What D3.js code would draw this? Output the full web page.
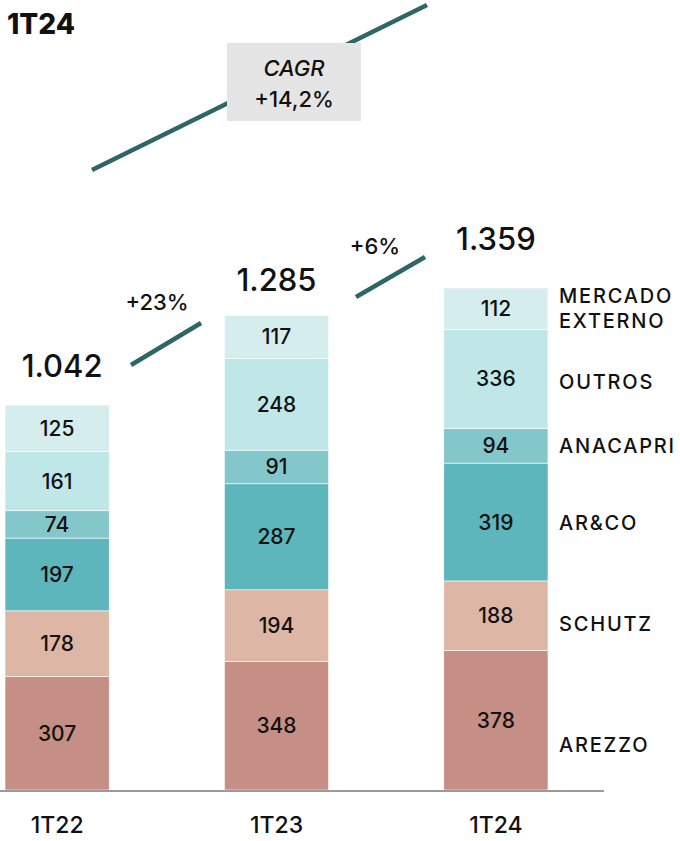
<!DOCTYPE html>
<html>
<head>
<meta charset="utf-8">
<script src="https://cdn.jsdelivr.net/npm/d3@7"></script>
<style>
  body { margin: 0; background: #fff; }
  svg text { font-family: Inter, "Noto Sans", "DejaVu Sans", sans-serif; font-weight: 500; fill: #111; }
</style>
</head>
<body>
<div class="chart"></div>
<script>
// data
var quarters = ["1T22", "1T23", "1T24"];
var seriesNames = ["AREZZO", "SCHUTZ", "AR&CO", "ANACAPRI", "OUTROS", "MERCADO EXTERNO"];
var arezzo = [307, 348, 378];
var schutz = [178, 194, 188];
var arco = [197, 287, 319];
var anacapri = [74, 91, 94];
var outros = [161, 248, 268];          // drawn height of the bar
var outrosPrinted = [161, 248, 336];   // value printed inside the bar
var mercado = [125, 117, 112];
var totals = ["1.042", "1.285", "1.359"];
var growth = ["+23%", "+6%"];
var cagrLabel = ["CAGR", "+14,2%"];

var colors = ["#C58F85", "#DEB6A6", "#5DB6BB", "#84C7CA", "#BFE7E8", "#D6EDED"];
var lineColor = "#2D6664";

var svgWidth = 680, svgHeight = 841;
var svg = d3.select(".chart").append("svg")
    .attr("width", svgWidth)
    .attr("height", svgHeight);

// build table for the stack
var table = quarters.map(function (q, i) {
    return {
        quarter: q,
        "AREZZO": arezzo[i],
        "SCHUTZ": schutz[i],
        "AR&CO": arco[i],
        "ANACAPRI": anacapri[i],
        "OUTROS": outros[i],
        "MERCADO EXTERNO": mercado[i]
    };
});
var printed = {
    "AREZZO": arezzo, "SCHUTZ": schutz, "AR&CO": arco,
    "ANACAPRI": anacapri, "OUTROS": outrosPrinted, "MERCADO EXTERNO": mercado
};

var stacked = d3.stack().keys(seriesNames)(table);

var x = d3.scaleBand()
    .domain(quarters)
    .range([5, 548])
    .paddingInner(0.525)
    .paddingOuter(0);

var y = d3.scaleLinear()
    .domain([0, 1359])
    .range([790, 288]);

// bars
var layers = svg.append("g").selectAll("g")
    .data(stacked)
    .enter()
    .append("g")
    .attr("fill", (d, i) => colors[i]);

layers.selectAll("rect")
    .data(d => d)
    .enter()
    .append("rect")
    .attr("x", d => x(d.data.quarter))
    .attr("y", d => y(d[1]))
    .attr("width", x.bandwidth())
    .attr("height", d => y(d[0]) - y(d[1]))
    .attr("stroke", "#fff")
    .attr("stroke-width", 0.6);

// values inside the segments
layers.each(function (layer) {
    d3.select(this).selectAll("text")
        .data(layer)
        .enter()
        .append("text")
        .attr("x", d => x(d.data.quarter) + x.bandwidth() / 2)
        .attr("y", d => (y(d[0]) + y(d[1])) / 2)
        .attr("text-anchor", "middle")
        .attr("dominant-baseline", "central")
        .style("font-size", "21px")
        .text((d, i) => printed[layer.key][i]);
});

// baseline axis
var xAxis = d3.axisBottom(x).tickSize(0).tickPadding(27);
var axisG = svg.append("g")
    .attr("transform", "translate(0,790)")
    .call(xAxis);
axisG.select(".domain").remove();
axisG.selectAll("text")
    .style("font-size", "23px")
    .style("font-family", "Inter, sans-serif")
    .attr("fill", "#111");
svg.append("line")
    .attr("x1", 0).attr("x2", 604)
    .attr("y1", 791).attr("y2", 791)
    .attr("stroke", "#9a9a9a")
    .attr("stroke-width", 2);

// totals above bars
var totalLift = [28, 24, 38];
svg.append("g").selectAll("text")
    .data(quarters)
    .enter()
    .append("text")
    .attr("x", (d, i) => x(d) + x.bandwidth() / 2 + (i === 0 ? 5 : 0))
    .attr("y", (d, i) => y(d3.sum(seriesNames, k => table[i][k])) - totalLift[i])
    .attr("text-anchor", "middle")
    .style("font-size", "31px")
    .text((d, i) => totals[i]);

// legend labels on the right, next to 1T24 segments
var last = quarters.length - 1;
var legendNudge = [25, 8, 1, 0, 3, 0];
var legend = svg.append("g");
stacked.forEach(function (layer, i) {
    var seg = layer[last];
    var cy = (y(seg[0]) + y(seg[1])) / 2 + legendNudge[i];
    var words = layer.key === "MERCADO EXTERNO" ? ["MERCADO", "EXTERNO"] : [layer.key];
    words.forEach(function (w, j) {
        legend.append("text")
            .attr("x", 559)
            .attr("y", cy + (j - (words.length - 1) / 2) * 25)
            .attr("dominant-baseline", "central")
            .style("font-size", "20px")
            .style("letter-spacing", "1.8px")
            .text(w);
    });
});

// growth lines between bars
svg.append("line")
    .attr("x1", 131).attr("y1", 365).attr("x2", 201).attr("y2", 323)
    .attr("stroke", lineColor).attr("stroke-width", 4.5);
svg.append("text")
    .attr("x", 157).attr("y", 310)
    .attr("text-anchor", "middle")
    .style("font-size", "22px")
    .text(growth[0]);

svg.append("line")
    .attr("x1", 356).attr("y1", 297).attr("x2", 425).attr("y2", 257)
    .attr("stroke", lineColor).attr("stroke-width", 4.5);
svg.append("text")
    .attr("x", 375).attr("y", 254)
    .attr("text-anchor", "middle")
    .style("font-size", "22px")
    .text(growth[1]);

// CAGR line and box
svg.append("line")
    .attr("x1", 92).attr("y1", 170).attr("x2", 427).attr("y2", 5)
    .attr("stroke", lineColor).attr("stroke-width", 4.5);
svg.append("rect")
    .attr("x", 227).attr("y", 43)
    .attr("width", 134).attr("height", 78)
    .attr("fill", "#E5E5E5");
svg.append("text")
    .attr("x", 294).attr("y", 76)
    .attr("text-anchor", "middle")
    .style("font-size", "22px")
    .style("font-style", "italic")
    .text(cagrLabel[0]);
svg.append("text")
    .attr("x", 294).attr("y", 107)
    .attr("text-anchor", "middle")
    .style("font-size", "22px")
    .text(cagrLabel[1]);

// title
svg.append("text")
    .attr("x", 7).attr("y", 34)
    .style("font-size", "28px")
    .style("font-weight", 800)
    .text("1T24");
</script>
</body>
</html>
